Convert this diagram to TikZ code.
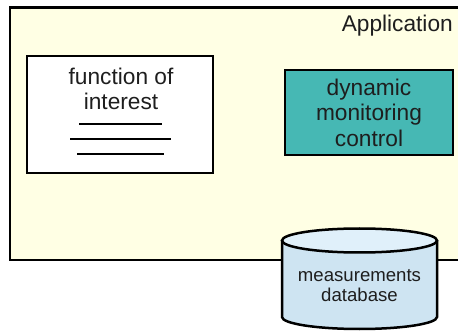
\documentclass[tikz,border=0pt]{standalone}
\usepackage{fontspec}
\setmainfont{Liberation Sans}
\definecolor{appyellow}{RGB}{255,255,228}
\definecolor{monteal}{RGB}{70,184,180}
\definecolor{dbbody}{RGB}{206,228,242}
\definecolor{dbtop}{RGB}{224,240,250}
\definecolor{textgray}{RGB}{30,30,30}

\begin{document}
\begin{tikzpicture}[x=1pt,y=-1pt,
  bigfont/.style={font=\fontsize{22.7}{25.6}\selectfont,text=textgray},
  smallfont/.style={font=\fontsize{18.6}{20}\selectfont,text=textgray},
  frame/.style={draw=black,line width=2.2pt,inner sep=0pt},
  dbline/.style={draw=black,line width=2.5pt}]
\useasboundingbox (0,0) rectangle (458,331);
\clip (0,0) rectangle (458,331);
\node[frame,fill=appyellow,anchor=north west,
  minimum width=480,minimum height=252.5] (app) at (8.5,6.5) {};
\node[bigfont,anchor=base east,inner sep=0pt] (applabel) at (453,32) {Application};

\node[frame,fill=white,minimum width=186,minimum height=117] (funcbox) at (120,114.5) {};
\node[bigfont,align=center,inner sep=0pt] (functext) at (121,88.7) {function of\\interest};
\draw[line width=2.5pt] (79,124) -- (162,124);
\draw[line width=2.5pt] (70,139) -- (171,139);
\draw[line width=2.5pt] (77,154) -- (164,154);

\node[frame,fill=monteal,minimum width=168,minimum height=85,
  bigfont,align=center] (monitor) at (369,112.5) {dynamic\\monitoring\\control};

% database cylinder
\coordinate (dbtopc) at (359.5,240.5);
\coordinate (dbbotc) at (359.5,317);
\fill[dbbody] (282,240.5) rectangle (437,317);
\fill[dbbody] (dbbotc) ellipse [x radius=77.5,y radius=12];
\draw[dbline] (282,240.5) -- (282,317)
  arc[start angle=180,end angle=0,x radius=77.5,y radius=12] -- (437,240.5);
\filldraw[dbline,fill=dbtop] (dbtopc) ellipse [x radius=77.5,y radius=12];
\node[smallfont,align=center,inner sep=0pt] (dbtext) at (359.5,286) {measurements\\database};
\end{tikzpicture}
\end{document}
